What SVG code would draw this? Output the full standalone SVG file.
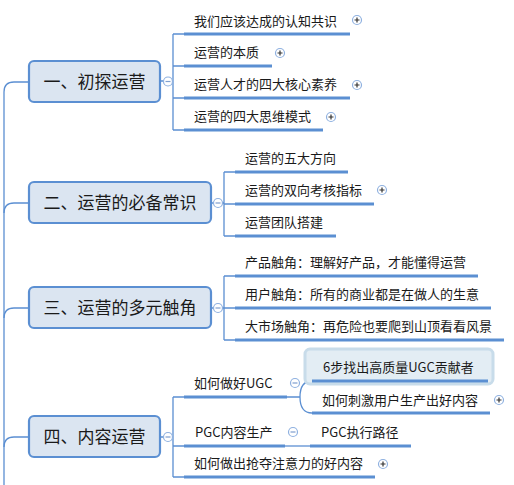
<svg xmlns="http://www.w3.org/2000/svg" width="514" height="485" viewBox="0 0 514 485">
<style>
text{font-family:"Noto Sans CJK SC","Noto Sans CJK JP",sans-serif;fill:#1a1a1a}
.main{font-size:17px;text-anchor:middle}
.sub{font-size:13px}
.mn{fill:#dbe5f1;stroke:#5b8fd2;stroke-width:2.2}
.ln{fill:none;stroke:#5b8fd2;stroke-width:1.3}
.ul{stroke:#5b8fd2;stroke-width:3}
.tog circle{fill:#fff;stroke:#8fb1e0;stroke-width:1.2}
.tog path{stroke:#7f9fcf;stroke-width:1.2}
.plus circle{fill:#fff;stroke:#8fb1e0;stroke-width:1.2}
.plus path{stroke:#333;stroke-width:1.2}
</style>
<g id="connectors">
<path class="ln" d="M4 485 V92 Q4 82 14 82 H29"/>
<path class="ln" d="M4 213 Q4 203 14 203 H29"/>
<path class="ln" d="M4 318 Q4 308 14 308 H29"/>
<path class="ln" d="M4 447 Q4 437 14 437 H29"/>
<path class="ln" d="M173 81 H160 M173 34 V130 M173 34 H184 M173 66 H184 M173 98 H184 M173 130 H184"/>
<path class="ln" d="M224 203 H211 M224 172 V236 M224 172 H235 M224 204 H235 M224 236 H235"/>
<path class="ln" d="M224 308 H211 M224 276 V340 M224 276 H235 M224 308 H235 M224 340 H235"/>
<path class="ln" d="M173 437 H160 M173 397 V477 M173 397 H184 M173 446 H184 M173 477 H184"/>
<path class="ln" d="M287 397 H300 Q300 381 312 381 M300 397 Q300 413 312 413"/>
<path class="ln" d="M285 446 H310"/>
</g>
<g id="n1">
<rect class="mn" x="29" y="61" width="131" height="41" rx="5"/>
<text class="main" x="94.5" y="87.5">一、初探运营</text>
<g class="tog"><circle cx="168" cy="81.5" r="4.5"/><path d="M165.5 81.5 H170.5"/></g>
</g>
<g id="n1a"><text class="sub" x="194" y="26">我们应该达成的认知共识</text><line class="ul" x1="184" y1="34" x2="350" y2="34"/>
<g class="plus"><circle cx="357" cy="20" r="4.5"/><path d="M354.5 20 H359.5 M357 17.5 V22.5"/></g></g>
<g id="n1b"><text class="sub" x="194" y="57">运营的本质</text><line class="ul" x1="184" y1="66" x2="272" y2="66"/>
<g class="plus"><circle cx="280" cy="53" r="4.5"/><path d="M277.5 53 H282.5 M280 50.5 V55.5"/></g></g>
<g id="n1c"><text class="sub" x="194" y="89">运营人才的四大核心素养</text><line class="ul" x1="184" y1="98" x2="350" y2="98"/>
<g class="plus"><circle cx="357" cy="85" r="4.5"/><path d="M354.5 85 H359.5 M357 82.5 V87.5"/></g></g>
<g id="n1d"><text class="sub" x="194" y="121">运营的四大思维模式</text><line class="ul" x1="184" y1="130" x2="323" y2="130"/>
<g class="plus"><circle cx="331" cy="117" r="4.5"/><path d="M328.5 117 H333.5 M331 114.5 V119.5"/></g></g>
<g id="n2">
<rect class="mn" x="29" y="182" width="182" height="41" rx="5"/>
<text class="main" x="120" y="208.5">二、运营的必备常识</text>
<g class="tog"><circle cx="218" cy="203" r="4.5"/><path d="M215.5 203 H220.5"/></g>
</g>
<g id="n2a"><text class="sub" x="245" y="163">运营的五大方向</text><line class="ul" x1="235" y1="172" x2="348" y2="172"/></g>
<g id="n2b"><text class="sub" x="245" y="195">运营的双向考核指标</text><line class="ul" x1="235" y1="204" x2="374" y2="204"/>
<g class="plus"><circle cx="382" cy="190" r="4.5"/><path d="M379.5 190 H384.5 M382 187.5 V192.5"/></g></g>
<g id="n2c"><text class="sub" x="245" y="227">运营团队搭建</text><line class="ul" x1="235" y1="236" x2="336" y2="236"/></g>
<g id="n3">
<rect class="mn" x="29" y="287" width="182" height="41" rx="5"/>
<text class="main" x="120" y="313.5">三、运营的多元触角</text>
<g class="tog"><circle cx="218" cy="308" r="4.5"/><path d="M215.5 308 H220.5"/></g>
</g>
<g id="n3a"><text class="sub" x="245" y="267">产品触角：理解好产品，才能懂得运营</text><line class="ul" x1="235" y1="276" x2="478" y2="276"/></g>
<g id="n3b"><text class="sub" x="245" y="299">用户触角：所有的商业都是在做人的生意</text><line class="ul" x1="235" y1="308" x2="491" y2="308"/></g>
<g id="n3c"><text class="sub" x="245" y="331">大市场触角：再危险也要爬到山顶看看风景</text><line class="ul" x1="235" y1="340" x2="504" y2="340"/></g>
<g id="n4">
<rect class="mn" x="29" y="416" width="131" height="41" rx="5"/>
<text class="main" x="94.5" y="442.5">四、内容运营</text>
<g class="tog"><circle cx="168" cy="437" r="4.5"/><path d="M165.5 437 H170.5"/></g>
</g>
<g id="n4a"><text class="sub" x="194" y="388">如何做好UGC</text><line class="ul" x1="184" y1="397" x2="287" y2="397"/>
<g class="tog"><circle cx="295" cy="383" r="4.5"/><path d="M292.5 383 H297.5"/></g></g>
<g id="n4a1"><rect x="305" y="349" width="188" height="35" rx="5" fill="#e3edf4" stroke="#c8dcea" stroke-width="3"/>
<text class="sub" x="323" y="372">6步找出高质量UGC贡献者</text><line class="ul" x1="312" y1="381" x2="488" y2="381"/></g>
<g id="n4a2"><text class="sub" x="322" y="405">如何刺激用户生产出好内容</text><line class="ul" x1="312" y1="413" x2="490" y2="413"/>
<g class="plus"><circle cx="499" cy="400" r="4.5"/><path d="M496.5 400 H501.5 M499 397.5 V402.5"/></g></g>
<g id="n4b"><text class="sub" x="195" y="437">PGC内容生产</text><line class="ul" x1="184" y1="446" x2="285" y2="446"/>
<g class="tog"><circle cx="293" cy="432" r="4.5"/><path d="M290.5 432 H295.5"/></g></g>
<g id="n4b1"><text class="sub" x="321" y="437">PGC执行路径</text><line class="ul" x1="310" y1="446" x2="411" y2="446"/></g>
<g id="n4c"><text class="sub" x="194" y="468">如何做出抢夺注意力的好内容</text><line class="ul" x1="184" y1="477" x2="375" y2="477"/>
<g class="plus"><circle cx="383" cy="464" r="4.5"/><path d="M380.5 464 H385.5 M383 461.5 V466.5"/></g></g>
</svg>
